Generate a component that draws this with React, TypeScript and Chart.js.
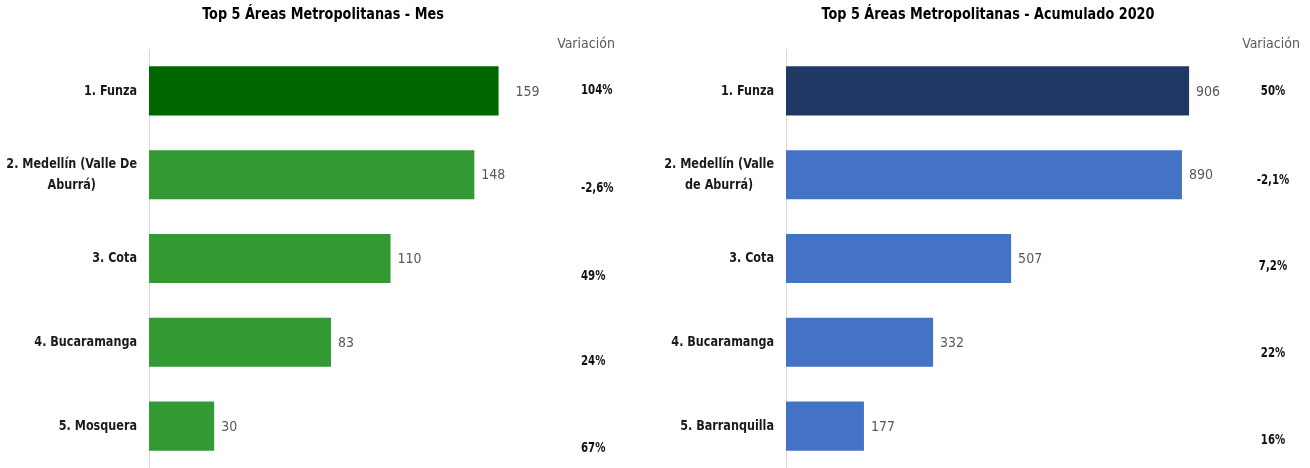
import React, { useEffect, useRef } from "react";
import { Chart, registerables } from "chart.js";

Chart.register(...registerables);

// ---------- DATA ----------
const mesTitle = "Top 5 Áreas Metropolitanas - Mes";
const mesCategories: string[][] = [
  ["1. Funza"],
  ["2. Medellín (Valle De", "Aburrá)"],
  ["3. Cota"],
  ["4. Bucaramanga"],
  ["5. Mosquera"],
];
const mesValues = [159, 148, 110, 83, 30];
const mesVariation = ["104%", "-2,6%", "49%", "24%", "67%"];

const acumTitle = "Top 5 Áreas Metropolitanas - Acumulado 2020";
const acumCategories: string[][] = [
  ["1. Funza"],
  ["2. Medellín (Valle", "de Aburrá)"],
  ["3. Cota"],
  ["4. Bucaramanga"],
  ["5. Barranquilla"],
];
const acumValues = [906, 890, 507, 332, 177];
const acumVariation = ["50%", "-2,1%", "7,2%", "22%", "16%"];

const variationHeader = "Variación";

// ---------- STYLE ----------
const FONT = '"Liberation Sans Narrow", "Arial Narrow", "DejaVu Sans Condensed", sans-serif';

type PanelCfg = {
  title: string;
  categories: string[][];
  values: number[];
  variation: string[];
  colors: string[];
  xMax: number;
  axisWidth: number;
  padRight: number;
  titleX: number;
  headerX: number;
  varX: number;
  varAlign: CanvasTextAlign;
  varOffsets: number[];
  valueGaps: number[];
};

const mesCfg: PanelCfg = {
  title: mesTitle,
  categories: mesCategories,
  values: mesValues,
  variation: mesVariation,
  colors: ["#006600", "#339933", "#339933", "#339933", "#339933"],
  xMax: 200,
  axisWidth: 149,
  padRight: 65,
  titleX: 323,
  headerX: 586,
  varX: 581,
  varAlign: "left",
  varOffsets: [0, 14, 18, 19, 22],
  valueGaps: [16, 6, 6, 6, 6],
};

const acumCfg: PanelCfg = {
  title: acumTitle,
  categories: acumCategories,
  values: acumValues,
  variation: acumVariation,
  colors: ["#203864", "#4472C4", "#4472C4", "#4472C4", "#4472C4"],
  xMax: 1000,
  axisWidth: 131,
  padRight: 78,
  titleX: 988 - 655,
  headerX: 1271 - 655,
  varX: 1273 - 655,
  varAlign: "center",
  varOffsets: [1, 6, 8, 11, 14],
  valueGaps: [6, 6, 6, 6, 6],
};

function drawText(
  ctx: CanvasRenderingContext2D,
  text: string,
  x: number,
  y: number,
  align: CanvasTextAlign,
  sx: number
) {
  ctx.save();
  ctx.translate(x, y);
  ctx.scale(sx, 1);
  ctx.textAlign = align;
  ctx.fillText(text, 0, 0);
  ctx.restore();
}

function Panel({ cfg }: { cfg: PanelCfg }) {
  const ref = useRef<HTMLCanvasElement | null>(null);
  useEffect(() => {
    if (!ref.current) return;
    const textPlugin = {
      id: "panelText",
      afterDraw(chart: any) {
        const ctx = chart.ctx as CanvasRenderingContext2D;
        const yScale = chart.scales.y;
        const meta = chart.getDatasetMeta(0);
        const area = chart.chartArea;
        ctx.save();
        ctx.textBaseline = "middle";
        // title
        ctx.fillStyle = "#000000";
        ctx.font = `bold 15.5px ${FONT}`;
        drawText(ctx, cfg.title, cfg.titleX, 15, "center", 0.92);
        // header
        ctx.fillStyle = "#595959";
        ctx.font = `14px ${FONT}`;
        drawText(ctx, variationHeader, cfg.headerX, 44, "center", 1);
        // category labels
        ctx.fillStyle = "#1a1a1a";
        ctx.font = `bold 14.5px ${FONT}`;
        const catSx = 0.86;
        const lineH = 21;
        cfg.categories.forEach((lines, i) => {
          const cy = yScale.getPixelForValue(i);
          const widths = lines.map((l) => ctx.measureText(l).width * catSx);
          const blockW = Math.max(...widths);
          const right = area.left - 12;
          const cx = right - blockW / 2;
          const startY = cy - ((lines.length - 1) * lineH) / 2;
          lines.forEach((l, k) => drawText(ctx, l, cx, startY + k * lineH, "center", catSx));
        });
        // value labels
        ctx.fillStyle = "#595959";
        ctx.font = `14px ${FONT}`;
        meta.data.forEach((bar: any, i: number) => {
          drawText(ctx, String(cfg.values[i]), bar.x + cfg.valueGaps[i], bar.y + 1, "left", 1);
        });
        // variation values
        ctx.fillStyle = "#111111";
        ctx.font = `bold 13.5px ${FONT}`;
        cfg.variation.forEach((v, i) => {
          const cy = yScale.getPixelForValue(i);
          drawText(ctx, v, cfg.varX, cy + cfg.varOffsets[i], cfg.varAlign, 0.84);
        });
        ctx.restore();
      },
    };
    const chart = new Chart(ref.current, {
      type: "bar",
      data: {
        labels: cfg.categories,
        datasets: [
          {
            data: cfg.values,
            backgroundColor: cfg.colors,
            borderColor: "rgba(255,255,255,0.35)",
            borderWidth: 1,
            barPercentage: 0.61,
            categoryPercentage: 1,
          },
        ],
      },
      options: {
        indexAxis: "y",
        responsive: false,
        animation: false,
        devicePixelRatio: 1,
        layout: { padding: { top: 49, left: 0, right: cfg.padRight, bottom: 0 } },
        plugins: {
          legend: { display: false },
          title: { display: false },
          tooltip: { enabled: false },
        },
        scales: {
          x: { display: false, min: 0, max: cfg.xMax },
          y: {
            grid: { display: false },
            border: { display: true, color: "#d9d9d9", width: 1 },
            ticks: { display: false },
            afterFit: (scale: any) => {
              scale.width = cfg.axisWidth;
            },
          },
        },
      } as any,
      plugins: [textPlugin],
    });
    return () => chart.destroy();
  }, [cfg]);
  return <canvas ref={ref} width={655} height={468} style={{ display: "block", width: 655, height: 468 }} />;
}

export default function App() {
  return (
    <div
      style={{
        position: "absolute",
        left: 0,
        top: 0,
        width: 1310,
        height: 468,
        display: "flex",
        background: "#ffffff",
      }}
    >
      <Panel cfg={mesCfg} />
      <Panel cfg={acumCfg} />
    </div>
  );
}
